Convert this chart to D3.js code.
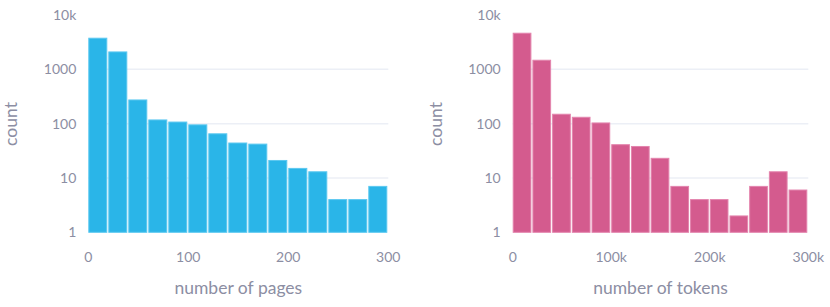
<!DOCTYPE html>
<html>
<head>
<meta charset="utf-8">
<script src="https://cdn.jsdelivr.net/npm/d3@7"></script>
<style>
  body { margin: 0; background: #fff; }
  text { font-family: Lato, "Noto Sans", sans-serif; }
</style>
</head>
<body>
<svg id="chart" width="830" height="307"></svg>
<script>
// bin edges shared by both histograms (15 bins of 20 units)
var binEdges = [0, 20, 40, 60, 80, 100, 120, 140, 160, 180, 200, 220, 240, 260, 280, 300];

// counts per bin
var pageCounts = [3740, 2090, 273, 117, 107, 95, 65, 44, 42, 21, 15, 13, 4, 4, 7];
var tokenCounts = [4620, 1470, 149, 131, 103, 41, 38, 23, 7, 4, 4, 2, 7, 13, 6];

var yTickValues = [1, 10, 100, 1000, 10000];
var yTickLabels = ['1', '10', '100', '1000', '10k'];
var pageTickValues = [0, 100, 200, 300];
var pageTickLabels = ['0', '100', '200', '300'];
var tokenTickValues = [0, 100, 200, 300];
var tokenTickLabels = ['0', '100k', '200k', '300k'];

var svg = d3.select('#chart');
var tickColor = '#8c8ea3';
var gridColor = '#eceff6';

function make_hist(opts){

  var g = svg.append('g');

  var x = d3.scaleLinear().domain([0, 300]).range([opts.left, opts.right]);
  var y = d3.scaleLog().domain([1, 10000]).range([232.3, 15]);

  // gridlines
  g.selectAll('line.grid')
    .data(yTickValues.slice(1, 4))
    .enter()
    .append('line')
    .attr('x1', opts.left)
    .attr('x2', opts.right)
    .attr('y1', function(d){ return y(d); })
    .attr('y2', function(d){ return y(d); })
    .attr('stroke', gridColor)
    .attr('stroke-width', 1.5);

  // bars
  var bins = opts.counts.map(function(c, i){
    return {x0: binEdges[i], x1: binEdges[i + 1], count: c};
  });

  g.selectAll('rect.bar')
    .data(bins)
    .enter()
    .append('rect')
    .attr('x', function(d){ return x(d.x0) + 0.5; })
    .attr('y', function(d){ return y(d.count); })
    .attr('width', function(d){ return x(d.x1) - x(d.x0) - 2; })
    .attr('height', function(d){ return y(1) - y(d.count); })
    .attr('fill', opts.fill)
    .attr('stroke', opts.stroke)
    .attr('stroke-width', 1);

  // y tick labels
  g.selectAll('text.ytick')
    .data(yTickValues)
    .enter()
    .append('text')
    .attr('x', opts.left - 12)
    .attr('y', function(d){ return y(d); })
    .attr('dy', '0.35em')
    .attr('text-anchor', 'end')
    .attr('fill', tickColor)
    .style('font-size', '14px')
    .text(function(d, i){ return yTickLabels[i]; });

  // x tick labels
  g.selectAll('text.xtick')
    .data(opts.xTicks)
    .enter()
    .append('text')
    .attr('x', function(d){ return x(d); })
    .attr('y', 257)
    .attr('dy', '0.35em')
    .attr('text-anchor', 'middle')
    .attr('fill', tickColor)
    .style('font-size', '14px')
    .text(function(d, i){ return opts.xLabels[i]; });

  // axis titles
  g.append('text')
    .attr('x', (opts.left + opts.right) / 2)
    .attr('y', 288)
    .attr('dy', '0.35em')
    .attr('text-anchor', 'middle')
    .attr('fill', tickColor)
    .style('font-size', '17.5px')
    .text(opts.xTitle);

  g.append('text')
    .attr('transform', 'translate(' + opts.yTitleX + ',124) rotate(-90)')
    .attr('dy', '0.35em')
    .attr('text-anchor', 'middle')
    .attr('fill', tickColor)
    .style('font-size', '17.5px')
    .text('count');
}

make_hist({
  left: 88.3, right: 388.3, counts: pageCounts,
  fill: '#2ab5e8', stroke: '#5cc8f0',
  xTicks: pageTickValues, xLabels: pageTickLabels,
  xTitle: 'number of pages', yTitleX: 11
});

make_hist({
  left: 512.7, right: 808.3, counts: tokenCounts,
  fill: '#d45b8e', stroke: '#e384ad',
  xTicks: tokenTickValues, xLabels: tokenTickLabels,
  xTitle: 'number of tokens', yTitleX: 436
});
</script>
</body>
</html>
